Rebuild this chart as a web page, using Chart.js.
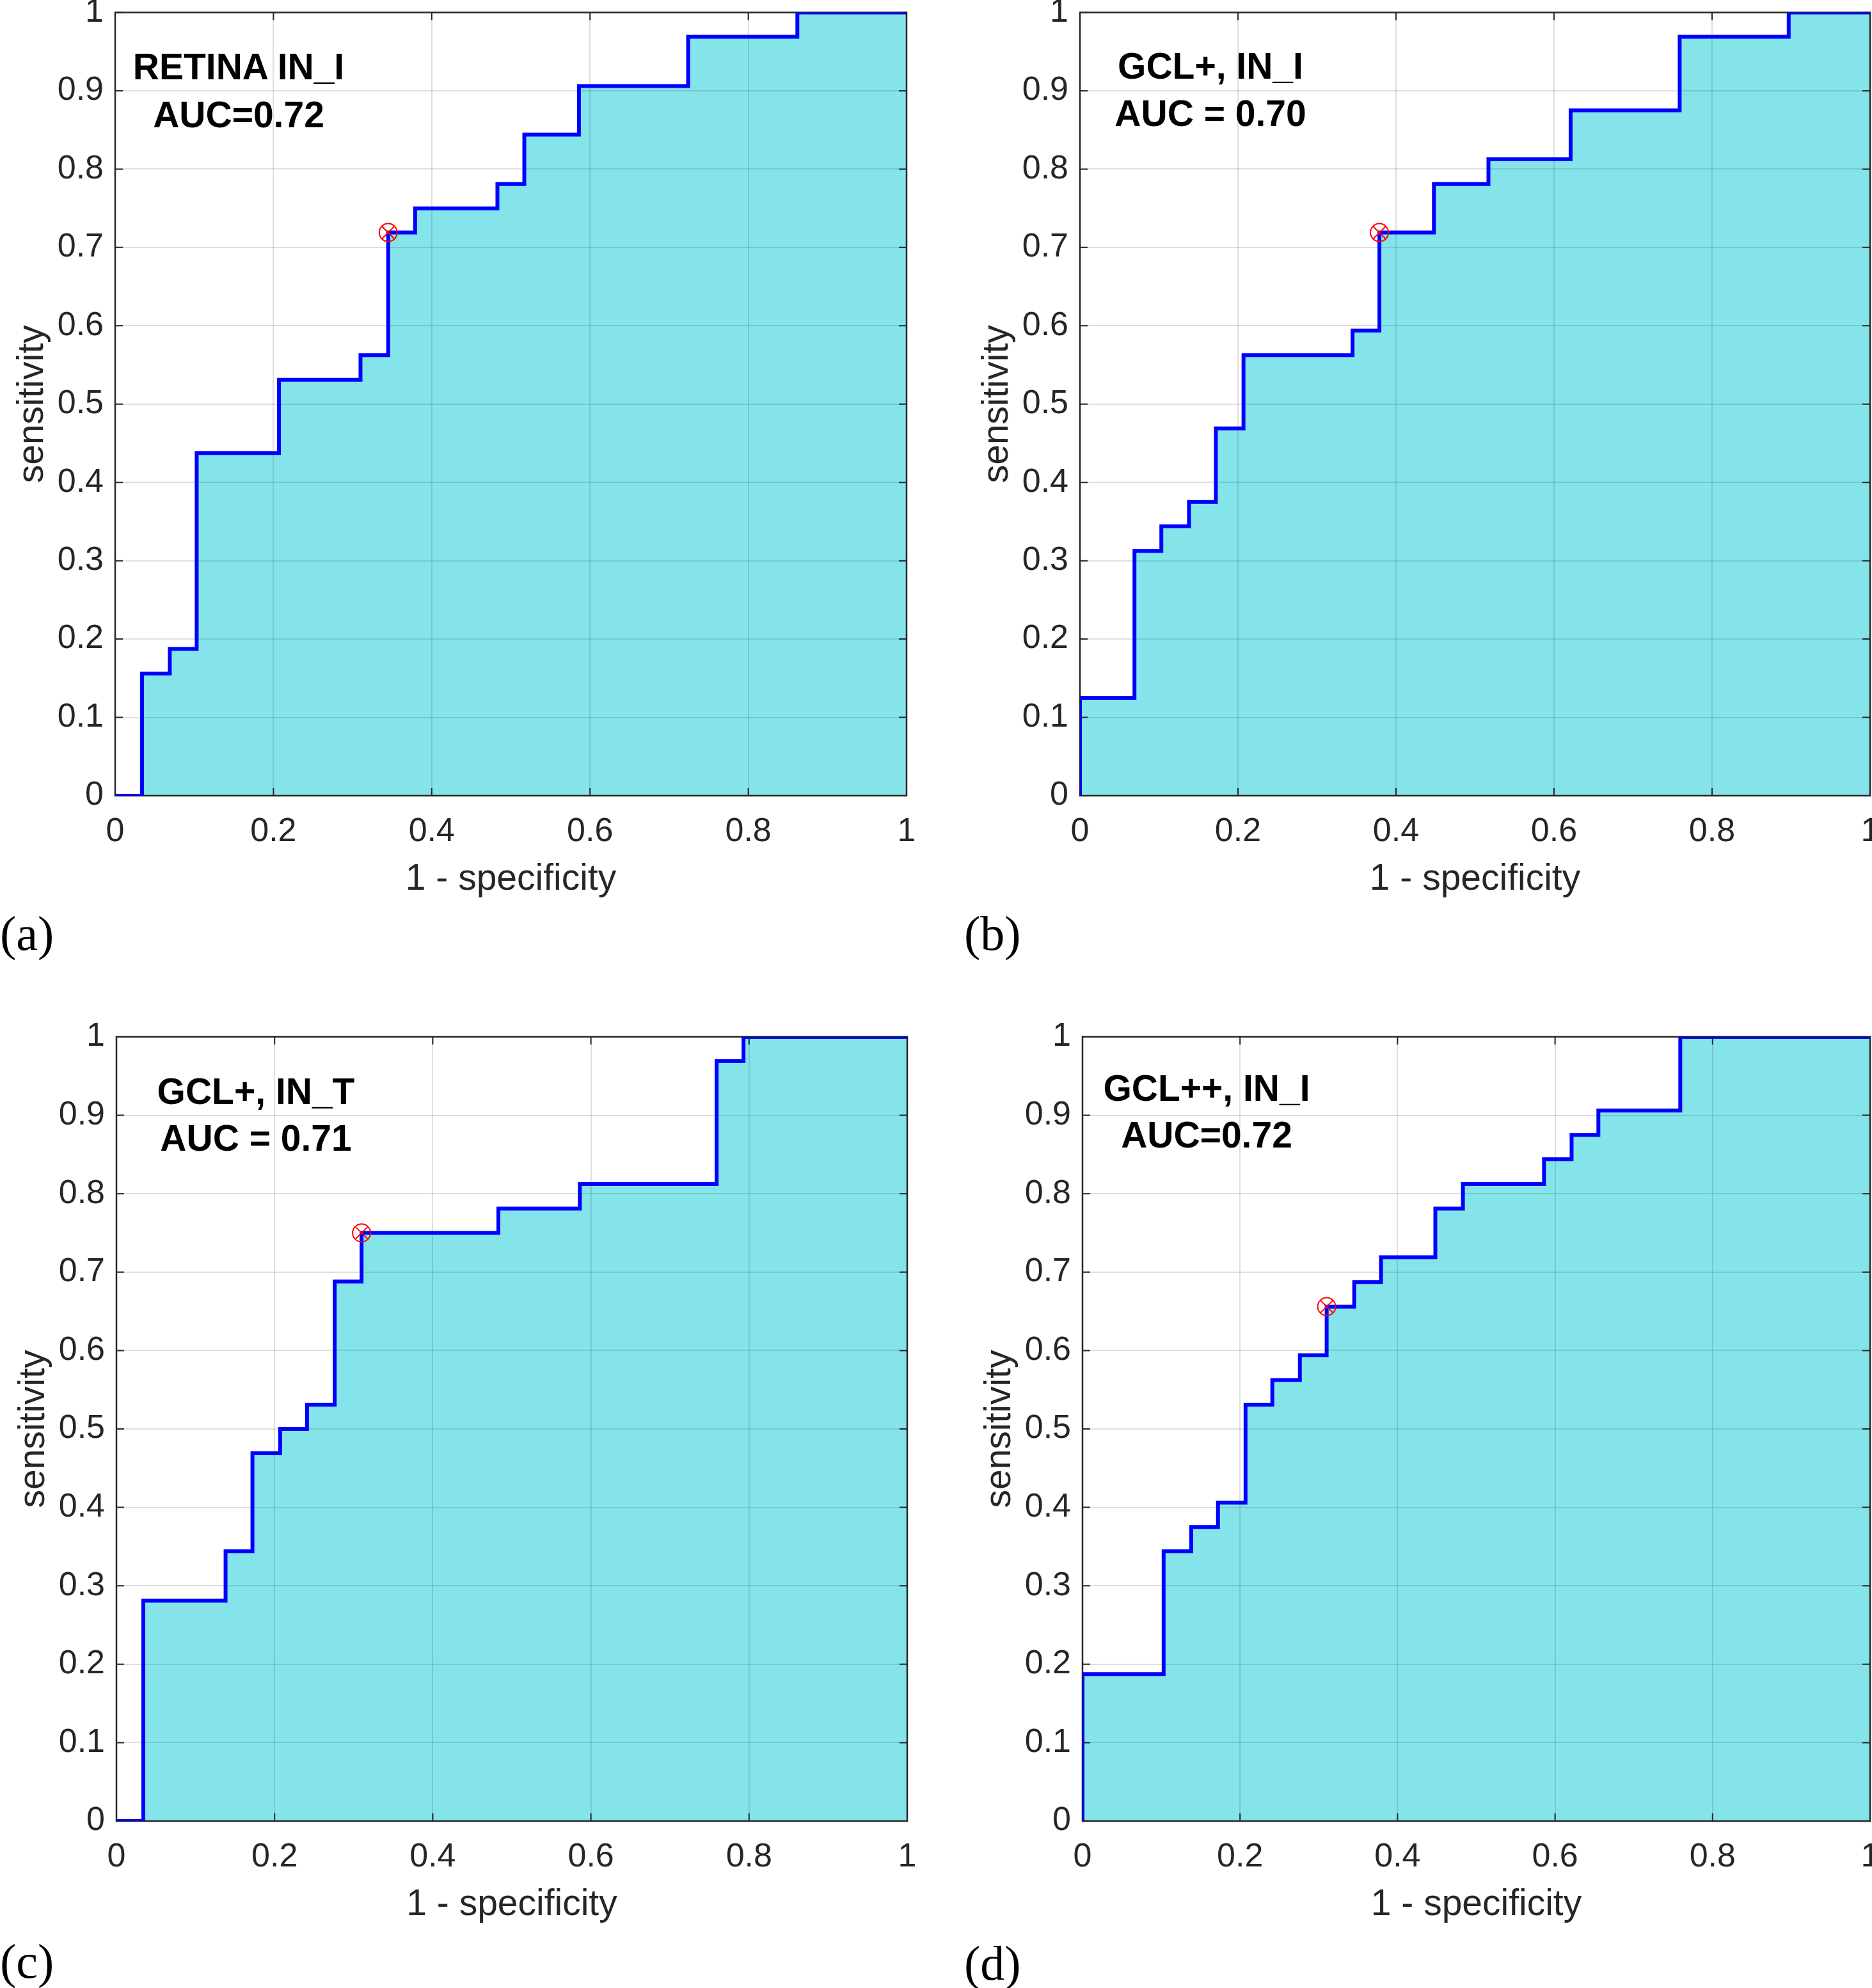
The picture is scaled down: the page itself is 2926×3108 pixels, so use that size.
<!DOCTYPE html>
<html>
<head>
<meta charset="utf-8">
<script src="https://cdn.jsdelivr.net/npm/chart.js@4.4.0/dist/chart.umd.min.js"></script>
<style>
  html, body { margin: 0; padding: 0; background: #fff; width: 2926px; height: 3108px; overflow: hidden; position: relative; }
  canvas { position: absolute; }
  .note { position: absolute; font: bold 57px 'Liberation Sans', Arial, sans-serif; color: #000; white-space: nowrap; line-height: 1; transform: translate(-50%, -50%); }
  .tag { position: absolute; font: 76px 'Liberation Serif', 'Times New Roman', serif; color: #000; line-height: 1; transform: translateY(-50%); }
</style>
</head>
<body>
<script>
// tick labels
const xTicks = ['0', '0.2', '0.4', '0.6', '0.8', '1'];
const yTicks = ['0', '0.1', '0.2', '0.3', '0.4', '0.5', '0.6', '0.7', '0.8', '0.9', '1'];

const panelNames = ['RETINA IN_I', 'GCL+, IN_I', 'GCL+, IN_T', 'GCL++, IN_I'];
const aucTexts = ['AUC=0.72', 'AUC = 0.70', 'AUC = 0.71', 'AUC=0.72'];
const panelTags = ['(a)', '(b)', '(c)', '(d)'];

// ROC corners (1 - specificity, sensitivity), stepped horizontally first
const fprA = [0, 0.034, 0.069, 0.103, 0.207, 0.310, 0.345, 0.379, 0.483, 0.517, 0.586, 0.724, 0.862, 1];
const tprA = [0, 0.156, 0.1875, 0.4375, 0.531, 0.5625, 0.719, 0.75, 0.781, 0.844, 0.906, 0.969, 1, 1];

const fprB = [0, 0, 0.069, 0.103, 0.138, 0.172, 0.207, 0.345, 0.379, 0.448, 0.517, 0.621, 0.759, 0.897, 1];
const tprB = [0, 0.125, 0.3125, 0.344, 0.375, 0.469, 0.5625, 0.594, 0.719, 0.781, 0.8125, 0.875, 0.969, 1, 1];

const fprC = [0, 0.034, 0.138, 0.172, 0.207, 0.241, 0.276, 0.310, 0.483, 0.586, 0.759, 0.793, 1];
const tprC = [0, 0.281, 0.344, 0.469, 0.5, 0.531, 0.688, 0.75, 0.781, 0.8125, 0.969, 1, 1];

const fprD = [0, 0, 0.103, 0.138, 0.172, 0.207, 0.241, 0.276, 0.310, 0.345, 0.379, 0.448, 0.483, 0.586, 0.621, 0.655, 0.759, 1];
const tprD = [0, 0.1875, 0.344, 0.375, 0.406, 0.531, 0.5625, 0.594, 0.656, 0.6875, 0.719, 0.781, 0.8125, 0.844, 0.875, 0.906, 1, 1];

// optimal cut-off points
const optFpr = [0.345, 0.379, 0.310, 0.310];
const optTpr = [0.719, 0.719, 0.75, 0.656];

// page layout of the four panels
const frames = [
  { left: 0, top: 0, w: 1466, h: 1440, pad: { left: 0, top: 19.5, right: 49, bottom: 26 }, note: [373, 104, 179], tag: [0, 1459] },
  { left: 1466, top: 0, w: 1460, h: 1440, pad: { left: 42, top: 19.5, right: 3, bottom: 26 }, note: [1892, 103, 177], tag: [1507, 1459] },
  { left: 0, top: 1560, w: 1466, h: 1548, pad: { left: 2, top: 61, right: 48, bottom: 91 }, note: [400, 1706, 1779], tag: [0, 3066] },
  { left: 1466, top: 1560, w: 1460, h: 1548, pad: { left: 46, top: 61, right: 3, bottom: 91 }, note: [1886, 1701, 1774], tag: [1507, 3069] }
];

const FONT = "'Liberation Sans', Arial, sans-serif";
const AXIS = '#262626';

// box + inward ticks, drawn right after the filled area so the blue line stays on top
const boxTicks = {
  id: 'boxTicks',
  afterDatasetDraw(chart, args) {
    if (args.index !== 3) return;
    const { ctx, chartArea: a, scales: { x, y } } = chart;
    ctx.save();
    ctx.strokeStyle = AXIS;
    ctx.lineWidth = 2;
    ctx.beginPath();
    x.ticks.forEach(t => {
      const p = x.getPixelForValue(t.value);
      ctx.moveTo(p, a.bottom); ctx.lineTo(p, a.bottom - 12);
      ctx.moveTo(p, a.top); ctx.lineTo(p, a.top + 12);
    });
    y.ticks.forEach(t => {
      const p = y.getPixelForValue(t.value);
      ctx.moveTo(a.left, p); ctx.lineTo(a.left + 12, p);
      ctx.moveTo(a.right, p); ctx.lineTo(a.right - 12, p);
    });
    ctx.stroke();
    ctx.lineWidth = 2.5;
    ctx.strokeRect(a.left, a.top, a.right - a.left, a.bottom - a.top);
    ctx.restore();
  }
};

function makePanel(i, fpr, tpr) {
  const f = frames[i];
  const cv = document.createElement('canvas');
  cv.width = f.w; cv.height = f.h;
  cv.style.left = f.left + 'px'; cv.style.top = f.top + 'px';
  cv.style.width = f.w + 'px'; cv.style.height = f.h + 'px';
  document.body.appendChild(cv);

  const pts = fpr.map((x, k) => ({ x: x, y: tpr[k] }));
  const opt = [{ x: optFpr[i], y: optTpr[i] }];

  new Chart(cv, {
    type: 'line',
    data: {
      datasets: [
        { data: opt, showLine: false, pointStyle: 'circle', pointRadius: 14, pointBorderWidth: 2,
          pointBorderColor: '#ff0000', pointBackgroundColor: 'rgba(0,0,0,0)', order: 0 },
        { data: opt, showLine: false, pointStyle: 'crossRot', pointRadius: 14, pointBorderWidth: 2,
          pointBorderColor: '#ff0000', pointBackgroundColor: 'rgba(0,0,0,0)', order: 0 },
        { data: pts, stepped: 'before', borderColor: '#0000ff', borderWidth: 6, pointRadius: 0, fill: false, order: 1 },
        { data: pts, stepped: 'before', borderColor: 'rgba(0,0,0,0)', borderWidth: 1, pointRadius: 0,
          fill: 'origin', backgroundColor: '#84e4ea', order: 2 }
      ]
    },
    options: {
      responsive: false,
      devicePixelRatio: 1,
      animation: false,
      events: [],
      layout: { padding: f.pad, autoPadding: false },
      plugins: { legend: { display: false }, tooltip: { enabled: false } },
      scales: {
        x: {
          type: 'linear', min: 0, max: 1,
          afterFit(s) { s.height = 170; s.paddingLeft = 0; s.paddingRight = 0; },
          ticks: { stepSize: 0.2, padding: 25, color: AXIS, font: { family: FONT, size: 52 },
                   maxRotation: 0, autoSkip: false, callback: (v, k) => xTicks[k] },
          grid: { color: 'rgba(38,38,38,0.15)', lineWidth: 2, drawTicks: false, z: 1 },
          border: { display: false },
          title: { display: true, text: '1 - specificity', color: AXIS, font: { family: FONT, size: 57 },
                   padding: { top: 0, bottom: 5 } }
        },
        y: {
          type: 'linear', min: 0, max: 1,
          afterFit(s) { s.width = 180; s.paddingTop = 0; s.paddingBottom = 0; },
          ticks: { stepSize: 0.1, padding: 18, color: AXIS, font: { family: FONT, size: 52 },
                   autoSkip: false, callback: (v, k) => yTicks[k] },
          grid: { color: 'rgba(38,38,38,0.15)', lineWidth: 2, drawTicks: false, z: 1 },
          border: { display: false },
          title: { display: true, text: 'sensitivity', color: AXIS, font: { family: FONT, size: 57 },
                   padding: { top: 17, bottom: 0 } }
        }
      }
    },
    plugins: [boxTicks]
  });

  // annotation text and panel tag
  const n1 = document.createElement('div');
  n1.className = 'note'; n1.textContent = panelNames[i];
  n1.style.left = f.note[0] + 'px'; n1.style.top = f.note[1] + 'px';
  document.body.appendChild(n1);
  const n2 = document.createElement('div');
  n2.className = 'note'; n2.textContent = aucTexts[i];
  n2.style.left = f.note[0] + 'px'; n2.style.top = f.note[2] + 'px';
  document.body.appendChild(n2);
  const tg = document.createElement('div');
  tg.className = 'tag'; tg.textContent = panelTags[i];
  tg.style.left = f.tag[0] + 'px'; tg.style.top = f.tag[1] + 'px';
  document.body.appendChild(tg);
}

makePanel(0, fprA, tprA);
makePanel(1, fprB, tprB);
makePanel(2, fprC, tprC);
makePanel(3, fprD, tprD);
</script>
</body>
</html>
